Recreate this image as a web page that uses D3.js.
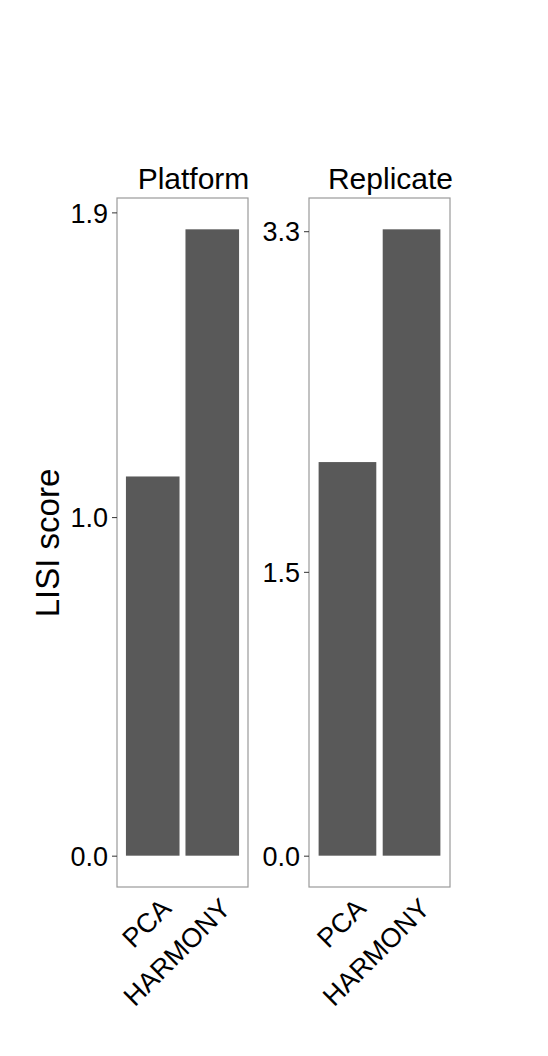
<!DOCTYPE html>
<html>
<head>
<meta charset="utf-8">
<script src="https://cdn.jsdelivr.net/npm/d3@7"></script>
<style>
  body { margin: 0; background: #fff; }
  text { font-family: "Liberation Sans", Arial, Helvetica, sans-serif; fill: #000; }
</style>
</head>
<body>
<div id="chart"></div>
<script>
const WIDTH = 548, HEIGHT = 1056;

// data
const methods = ["PCA", "HARMONY"];
const panels = ["Platform", "Replicate"];
const platformScores = [1.12, 1.85];
const replicateScores = [2.08, 3.31];
const platformTicks = [0.0, 1.0, 1.9];
const replicateTicks = [0.0, 1.5, 3.3];

const panelData = [
  {name: panels[0], values: platformScores, ticks: platformTicks},
  {name: panels[1], values: replicateScores, ticks: replicateTicks}
];

// panel boxes (left/right edges), shared top/bottom
const panelX = [[117, 248], [309, 450]];
const panelTop = 198, panelBottom = 887;

let svg = d3.select("#chart")
  .append("svg")
  .attr("width", WIDTH)
  .attr("height", HEIGHT);

panelData.forEach(function(p, i) {
  let x0 = panelX[i][0], x1 = panelX[i][1];
  let maxV = d3.max(p.values);
  let pad = maxV * 0.05;   // ggplot-like 5% expansion

  let y = d3.scaleLinear()
    .domain([-pad, maxV + pad])
    .range([panelBottom, panelTop]);

  let x = d3.scaleBand()
    .domain(methods)
    .range([x0, x1])
    .paddingInner(0.1)
    .paddingOuter(0.15);

  let g = svg.append("g");

  g.selectAll("rect.bar")
    .data(methods)
    .enter()
    .append("rect")
    .attr("class", "bar")
    .attr("x", function(d) { return x(d); })
    .attr("y", function(d, j) { return y(p.values[j]); })
    .attr("width", x.bandwidth())
    .attr("height", function(d, j) { return y(0) - y(p.values[j]); })
    .attr("fill", "#595959");

  // panel border
  g.append("rect")
    .attr("x", x0)
    .attr("y", panelTop)
    .attr("width", x1 - x0)
    .attr("height", panelBottom - panelTop)
    .attr("fill", "none")
    .attr("stroke", "#9a9a9a")
    .attr("stroke-width", 1.2);

  // y axis
  let yAxis = g.append("g")
    .attr("transform", `translate(${x0},0)`)
    .call(d3.axisLeft(y)
      .tickValues(p.ticks)
      .tickFormat(d3.format(".1f"))
      .tickSize(5)
      .tickPadding(4));
  yAxis.select(".domain").remove();
  yAxis.selectAll(".tick line").attr("stroke", "#333");
  yAxis.selectAll(".tick text")
    .attr("font-size", 27)
    .attr("dy", "0.36em")
    .attr("fill", "#000");

  // x labels, rotated 45
  g.selectAll("text.xlab")
    .data(methods)
    .enter()
    .append("text")
    .attr("class", "xlab")
    .attr("transform", function(d) {
      return `translate(${x(d) + x.bandwidth() / 2 + 20},${panelBottom + 23}) rotate(-45)`;
    })
    .style("text-anchor", "end")
    .attr("font-size", 27)
    .text(function(d) { return d; });

  // strip title
  g.append("text")
    .attr("x", (x0 + x1) / 2 + 11)
    .attr("y", 189)
    .style("text-anchor", "middle")
    .attr("font-size", 30)
    .text(p.name);
});

svg.append("text")
  .attr("transform", `translate(59,543) rotate(-90)`)
  .style("text-anchor", "middle")
  .attr("font-size", 33)
  .text("LISI score");
</script>
</body>
</html>
